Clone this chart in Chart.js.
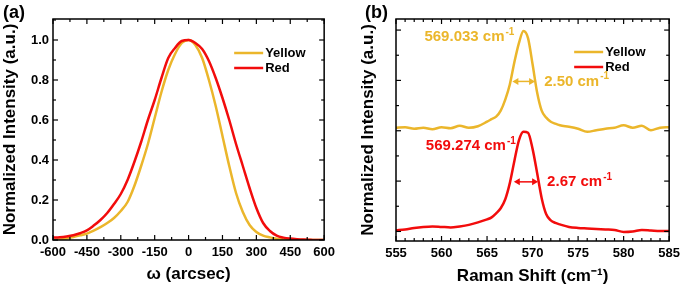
<!DOCTYPE html>
<html>
<head>
<meta charset="utf-8">
<script src="https://cdn.jsdelivr.net/npm/chart.js@4.4.1/dist/chart.umd.min.js"></script>
<style>
    body { margin: 0; background: #fff; }
    #wrap { position: relative; width: 685px; height: 290px; }
    canvas { position: absolute; top: 0; }
    #rockingChart { left: 0; }
    #ramanChart { left: 345px; }
</style>
</head>
<body>
<div id="wrap">
    <canvas id="rockingChart" width="340" height="290"></canvas>
    <canvas id="ramanChart" width="340" height="290"></canvas>
</div>
<script>
// ---- data ----
const seriesNames = ['Yellow', 'Red'];
const seriesColors = ['#ebb62b', '#f20c0c'];

// (a) rocking curves, omega in arcsec
const omega = [-600, -570, -540, -510, -480, -450, -420, -390, -360, -330, -300, -270, -240, -210, -180, -150, -120, -90, -60, -30,
    0, 30, 60, 90, 120, 150, 180, 210, 240, 270, 300, 330, 360, 390, 420, 450, 480, 510, 540, 570, 600];
const yellowRocking = [0.0, 0.003, 0.008, 0.015, 0.023, 0.032, 0.047, 0.064, 0.085, 0.11, 0.145, 0.19, 0.27, 0.37, 0.48, 0.61, 0.74, 0.85, 0.93, 0.985,
    1.0, 0.975, 0.91, 0.80, 0.67, 0.52, 0.37, 0.235, 0.14, 0.075, 0.04, 0.022, 0.013, 0.006, 0.003, 0.001, 0, 0, 0, 0, 0];
const redRocking = [0.012, 0.014, 0.018, 0.024, 0.034, 0.048, 0.072, 0.10, 0.135, 0.18, 0.23, 0.30, 0.39, 0.49, 0.60, 0.70, 0.81, 0.91, 0.96, 0.995,
    1.0, 0.985, 0.955, 0.895, 0.81, 0.71, 0.60, 0.48, 0.37, 0.26, 0.16, 0.085, 0.045, 0.022, 0.012, 0.007, 0.004, 0.002, 0.001, 0, 0];

// (b) Raman spectra (yellow offset by +1)
const ramanShift = [555, 556, 557, 558, 559, 560, 561, 562, 563, 564, 565,
    565.5, 566, 566.5, 567, 567.5, 568, 568.5, 569, 569.5, 570, 570.5, 571, 571.5, 572, 572.5, 573,
    574, 575, 576, 577, 578, 579, 580, 581, 582, 583, 584, 585];
const yellowRaman = [1.03, 1.035, 1.02, 1.03, 1.015, 1.035, 1.025, 1.05, 1.03, 1.045, 1.09,
    1.115, 1.14, 1.20, 1.31, 1.46, 1.68, 1.87, 1.99, 1.92, 1.66, 1.38, 1.20, 1.13, 1.09, 1.07, 1.055,
    1.04, 1.02, 0.99, 1.005, 1.02, 1.03, 1.055, 1.03, 1.05, 1.005, 1.03, 1.035];
const redRaman = [0.01, 0.02, 0.035, 0.045, 0.05, 0.045, 0.04, 0.05, 0.065, 0.09, 0.12,
    0.14, 0.18, 0.23, 0.32, 0.48, 0.70, 0.905, 0.99, 0.98, 0.82, 0.58, 0.33, 0.17, 0.11, 0.085, 0.07,
    0.045, 0.035, 0.03, 0.025, 0.02, 0.015, -0.005, 0.0, 0.015, 0.01, 0.005, 0.005];
const peakPositions = [569.033, 569.274];
const peakWidths = [2.50, 2.67];

// ---- drawing ----
const FONT = "'Liberation Sans', Arial, sans-serif";
Chart.defaults.font.family = FONT;
Chart.defaults.font.weight = 'bold';
Chart.defaults.font.size = 13;
Chart.defaults.color = '#000';

function toPoints(xs, ys) {
    return xs.map((x, i) => ({ x: x, y: ys[i] }));
}

function makeDataset(i, xs, ys) {
    return {
        label: seriesNames[i],
        data: toPoints(xs, ys),
        borderColor: seriesColors[i],
        backgroundColor: seriesColors[i],
        borderWidth: 2.5,
        pointRadius: 0,
        cubicInterpolationMode: 'monotone',
        order: i === 1 ? 0 : 1
    };
}

// major + minor inward ticks, using the scale's own ticks
function forEachTick(scale, minor, cb) {
    const t = scale.ticks.map(k => k.value);
    const step = t[1] - t[0];
    const sub = step / minor;
    const first = Math.ceil((scale.min - 1e-9) / sub);
    const last = Math.floor((scale.max + 1e-9) / sub);
    for (let i = first; i <= last; i++) {
        const v = i * sub;
        const isMajor = Math.abs(v / step - Math.round(v / step)) < 1e-6;
        cb(scale.getPixelForValue(v), isMajor ? 5 : 3);
    }
}

function line(ctx, x1, y1, x2, y2) {
    ctx.beginPath();
    ctx.moveTo(x1, y1);
    ctx.lineTo(x2, y2);
    ctx.stroke();
}

const decor = {
    id: 'decor',
    afterDraw(chart, args, opts) {
        const ctx = chart.ctx;
        const { left, right, top, bottom } = chart.chartArea;
        ctx.save();
        ctx.strokeStyle = '#000';
        ctx.lineWidth = 1.2;
        forEachTick(chart.scales.x, opts.xMinor, (px, len) => {
            line(ctx, px, bottom, px, bottom - len);
            line(ctx, px, top, px, top + len);
        });
        forEachTick(chart.scales.y, opts.yMinor, (py, len) => {
            line(ctx, left, py, left + len, py);
            line(ctx, right, py, right - len, py);
        });
        ctx.lineWidth = 1.5;
        ctx.strokeRect(left, top, right - left, bottom - top);

        // legend
        const lx = right - opts.legendOffset;
        ctx.font = 'bold 13px ' + FONT;
        ctx.textBaseline = 'middle';
        ctx.textAlign = 'left';
        chart.data.datasets.forEach((ds, i) => {
            const ly = top + opts.legendTop + i * 15;
            ctx.strokeStyle = ds.borderColor;
            ctx.lineWidth = 2.5;
            line(ctx, lx, ly, lx + 29, ly);
            ctx.fillStyle = '#000';
            ctx.fillText(ds.label, lx + 31, ly + 0.5);
        });

        // panel label
        ctx.font = 'bold 18px ' + FONT;
        ctx.fillStyle = '#000';
        ctx.fillText(opts.panel, opts.panelX, 13);
        ctx.restore();
    }
};

function drawSup(ctx, text, sup, x, y, align, color) {
    ctx.font = 'bold 15px ' + FONT;
    const w1 = ctx.measureText(text).width;
    ctx.font = 'bold 10px ' + FONT;
    const w2 = ctx.measureText(sup).width;
    const x0 = align === 'right' ? x - w1 - w2 - 1 : x;
    ctx.fillStyle = color;
    ctx.textAlign = 'left';
    ctx.textBaseline = 'middle';
    ctx.font = 'bold 15px ' + FONT;
    ctx.fillText(text, x0, y);
    ctx.font = 'bold 10px ' + FONT;
    ctx.fillText(sup, x0 + w1 + 1, y - 5);
}

function drawDoubleArrow(ctx, x1, x2, y, color) {
    ctx.strokeStyle = color;
    ctx.fillStyle = color;
    ctx.lineWidth = 1.5;
    line(ctx, x1 + 3, y, x2 - 3, y);
    [[x1, 1], [x2, -1]].forEach(([x, d]) => {
        ctx.beginPath();
        ctx.moveTo(x, y);
        ctx.lineTo(x + d * 6, y - 3.5);
        ctx.lineTo(x + d * 6, y + 3.5);
        ctx.closePath();
        ctx.fill();
    });
}

const ramanNotes = {
    id: 'ramanNotes',
    afterDatasetsDraw(chart) {
        const ctx = chart.ctx;
        const xs = chart.scales.x, ys = chart.scales.y;
        ctx.save();
        chart.data.datasets.forEach((ds, i) => {
            const vals = ds.data.map(p => p.y);
            const hi = Math.max(...vals), lo = Math.min(...vals);
            const yHalf = ys.getPixelForValue((hi + lo) / 2);
            const x1 = xs.getPixelForValue(peakPositions[i] - peakWidths[i] / 2);
            const x2 = xs.getPixelForValue(peakPositions[i] + peakWidths[i] / 2);
            drawDoubleArrow(ctx, x1, x2, yHalf, ds.borderColor);
            drawSup(ctx, peakWidths[i].toFixed(2) + ' cm', '-1', x2 + 9, yHalf, 'left', ds.borderColor);
            drawSup(ctx, peakPositions[i].toFixed(3) + ' cm', '-1', x1 + 2, ys.getPixelForValue(hi) + (i ? 14 : 6), 'right', ds.borderColor);
        });
        ctx.restore();
    }
};

function baseOptions(cfg) {
    return {
        responsive: false,
        animation: false,
        devicePixelRatio: 1,
        layout: { padding: { top: 19, right: cfg.padRight, left: 0, bottom: 0 } },
        plugins: {
            legend: { display: false },
            tooltip: { enabled: false },
            decor: cfg.decor
        },
        scales: {
            x: {
                type: 'linear',
                min: cfg.xMin,
                max: cfg.xMax,
                grid: { display: false, drawTicks: false },
                border: { display: false },
                ticks: { stepSize: cfg.xStep, padding: 5, maxRotation: 0, autoSkip: false, font: { size: 13, weight: 'bold' }, callback: v => String(v) },
                title: { display: true, text: cfg.xTitle, font: { size: 17, weight: 'bold' }, padding: { top: 0, bottom: cfg.xTitlePad } },
                afterFit: s => { s.height = cfg.xHeight; }
            },
            y: {
                min: cfg.yMin,
                max: cfg.yMax,
                grid: { display: false, drawTicks: false },
                border: { display: false },
                ticks: { display: cfg.yLabels, stepSize: cfg.yStep, includeBounds: false, padding: 4, font: { size: 13, weight: 'bold' }, callback: v => v.toFixed(1) },
                title: { display: true, text: 'Normalized Intensity (a.u.)', font: { size: 17, weight: 'bold' }, padding: { top: cfg.yTitlePad, bottom: 0 } },
                afterFit: s => { s.width = cfg.yWidth; }
            }
        }
    };
}

new Chart(document.getElementById('rockingChart'), {
    type: 'line',
    data: {
        datasets: [
            makeDataset(0, omega, yellowRocking),
            makeDataset(1, omega, redRocking)
        ]
    },
    options: baseOptions({
        padRight: 10, xMin: -600, xMax: 600, xStep: 150, xTitle: 'ω (arcsec)', xTitlePad: 5, xHeight: 50,
        yMin: 0, yMax: 1.105, yStep: 0.2, yLabels: true, yTitlePad: 0, yWidth: 53,
        decor: { xMinor: 2, yMinor: 2, legendOffset: 90, legendTop: 34, panel: '(a)', panelX: 3 }
    }),
    plugins: [decor]
});

new Chart(document.getElementById('ramanChart'), {
    type: 'line',
    data: {
        datasets: [
            makeDataset(0, ramanShift, yellowRaman),
            makeDataset(1, ramanShift, redRaman)
        ]
    },
    options: baseOptions({
        padRight: 13, xMin: 555, xMax: 585, xStep: 5, xTitle: 'Raman Shift (cm⁻¹)', xTitlePad: 3, xHeight: 49,
        yMin: -0.095, yMax: 2.11, yStep: 0.5, yLabels: false, yTitlePad: 13, yWidth: 51,
        decor: { xMinor: 5, yMinor: 2, legendOffset: 95, legendTop: 33, panel: '(b)', panelX: 20 }
    }),
    plugins: [decor, ramanNotes]
});
</script>
</body>
</html>
